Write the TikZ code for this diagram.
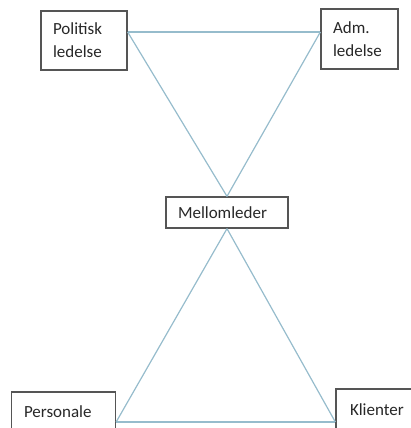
\documentclass[tikz,border=0pt]{standalone}
\usepackage{fontspec}
\setmainfont{Carlito}
\definecolor{boxline}{RGB}{85,85,85}
\definecolor{link}{RGB}{150,188,204}
\definecolor{txt}{RGB}{40,40,40}
\begin{document}
\begin{tikzpicture}[x=1pt,y=-1pt,
  rolebox/.style={draw=boxline,line width=1.3pt,fill=white,inner xsep=12pt,inner ysep=0pt,
    align=left,text=txt,font=\fontsize{17}{23}\selectfont},
  link/.style={draw=link,line width=1.2pt}]
\useasboundingbox (0,0) rectangle (411,428);
\clip (0,0) rectangle (411,428);

% top pair of roles
\node[rolebox,text width=62pt,minimum height=59pt] (pol) at (84,40.5) {Politisk\\ledelse};
\node[rolebox,text width=53pt,minimum height=60pt] (adm) at (359.5,39) {Adm.\\ledelse};

% middle role
\node[rolebox,text width=98pt,minimum height=31pt] (mel) at (227,212.5) {Mellomleder};

% bottom pair of roles
\node[rolebox,text width=79pt,minimum height=40pt,inner xsep=12.5pt] (per) at (63.5,412) {Personale};
\node[rolebox,text width=60pt,minimum height=41pt,inner xsep=14pt] (kli) at (380,409.5) {Klienter};

% upper triangle
\draw[link] ([yshift=8.5pt]pol.east) -- ([yshift=7pt]adm.west);
\draw[link] ([yshift=8.5pt]pol.east) -- (mel.north);
\draw[link] ([yshift=7pt]adm.west) -- (mel.north);

% lower triangle
\draw[link] ([yshift=-10pt]per.east) -- ([yshift=-12.5pt]kli.west);
\draw[link] ([yshift=-10pt]per.east) -- (mel.south);
\draw[link] ([yshift=-12.5pt]kli.west) -- (mel.south);
\end{tikzpicture}
\end{document}
